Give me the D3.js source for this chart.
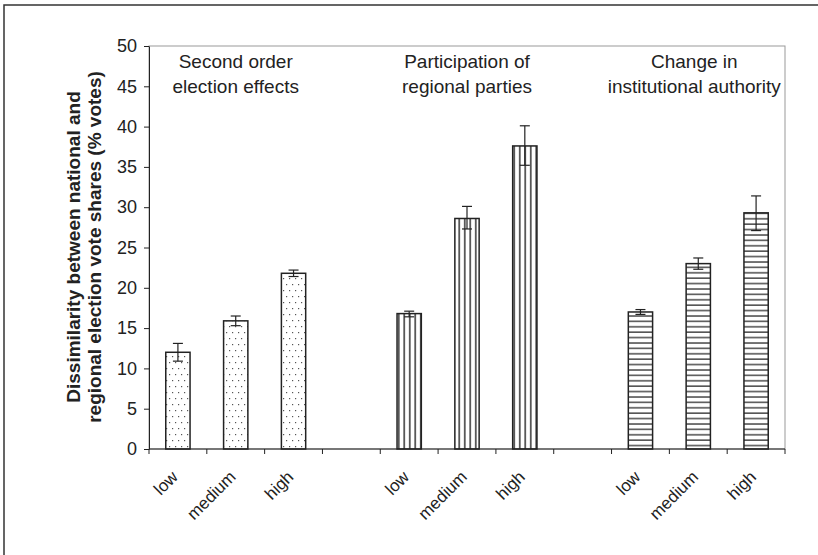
<!DOCTYPE html>
<html>
<head>
<meta charset="utf-8">
<script src="https://cdn.jsdelivr.net/npm/d3@7"></script>
<style>
  body { margin: 0; background: #fff; }
  text { font-family: "Liberation Sans", Arial, sans-serif; fill: #222; }
</style>
</head>
<body>
<div id="content"></div>
<script>
// data
var levels = ["low", "medium", "high"];
var groupLines = [["Second order", "election effects"], ["Participation of", "regional parties"], ["Change in", "institutional authority"]];
var soe = [12.0, 15.9, 21.8];
var prp = [16.8, 28.6, 37.6];
var cia = [17.0, 23.0, 29.3];
var soeErr = [[10.9, 13.1], [15.3, 16.5], [21.4, 22.2]];
var prpErr = [[16.4, 17.1], [27.3, 30.1], [35.2, 40.1]];
var ciaErr = [[16.7, 17.3], [22.3, 23.7], [27.1, 31.4]];
var yTicks = [0, 5, 10, 15, 20, 25, 30, 35, 40, 45, 50];

var W = 818, H = 555;
var pLeft = 149, pRight = 785, pTop = 46, pBottom = 449;

var values = [soe, prp, cia];
var errs = [soeErr, prpErr, ciaErr];
var patterns = ["dots", "vlines", "hlines"];

// 11 slots: 3 bars, gap, 3 bars, gap, 3 bars
var slots = [];
values.forEach(function(vals, g) {
    vals.forEach(function(v, i) {
        slots.push({key: g + "-" + i, label: levels[i], value: v, err: errs[g][i], pat: patterns[g]});
    });
    if (g < 2) slots.push({key: "gap" + g, label: "", value: null});
});

var svg = d3.select("#content").append("svg")
    .attr("width", W).attr("height", H);

var defs = svg.append("defs");
var pd = defs.append("pattern").attr("id", "dots").attr("patternUnits", "userSpaceOnUse")
    .attr("width", 6).attr("height", 12);
pd.append("rect").attr("x", 1).attr("y", 2).attr("width", 1.2).attr("height", 1.2).attr("fill", "#555");
pd.append("rect").attr("x", 4).attr("y", 8).attr("width", 1.2).attr("height", 1.2).attr("fill", "#555");

var pv = defs.append("pattern").attr("id", "vlines").attr("patternUnits", "userSpaceOnUse")
    .attr("width", 5.5).attr("height", 10);
pv.append("rect").attr("x", 2).attr("y", 0).attr("width", 1.5).attr("height", 10).attr("fill", "#333");

var ph = defs.append("pattern").attr("id", "hlines").attr("patternUnits", "userSpaceOnUse")
    .attr("width", 10).attr("height", 5.4);
ph.append("rect").attr("x", 0).attr("y", 2).attr("width", 10).attr("height", 1.6).attr("fill", "#555");

// outer frame
svg.append("rect").attr("x", 4).attr("y", 5).attr("width", 900).attr("height", 700)
    .attr("fill", "none").attr("stroke", "#333").attr("stroke-width", 1.5);

var x = d3.scaleBand().domain(slots.map(d => d.key)).range([pLeft, pRight]).paddingInner(0).paddingOuter(0);
var y = d3.scaleLinear().domain([0, 50]).range([pBottom, pTop]);
var bw = x.bandwidth() * 0.42;

// plot area border
svg.append("rect").attr("x", pLeft).attr("y", pTop).attr("width", pRight - pLeft).attr("height", pBottom - pTop)
    .attr("fill", "none").attr("stroke", "#999").attr("stroke-width", 1);

// bars
var bars = slots.filter(d => d.value !== null);
svg.selectAll(".bar").data(bars).enter().append("rect")
    .attr("x", d => x(d.key) + (x.bandwidth() - bw) / 2)
    .attr("y", d => y(d.value))
    .attr("width", bw)
    .attr("height", d => y(0) - y(d.value))
    .attr("fill", d => "url(#" + d.pat + ")")
    .attr("stroke", "#222").attr("stroke-width", 1.5);

// error bars
var eg = svg.selectAll(".err").data(bars).enter().append("g")
    .attr("stroke", "#222").attr("stroke-width", 1.2);
eg.append("line")
    .attr("x1", d => x(d.key) + x.bandwidth() / 2).attr("x2", d => x(d.key) + x.bandwidth() / 2)
    .attr("y1", d => y(d.err[0])).attr("y2", d => y(d.err[1]));
eg.append("line")
    .attr("x1", d => x(d.key) + x.bandwidth() / 2 - 5).attr("x2", d => x(d.key) + x.bandwidth() / 2 + 5)
    .attr("y1", d => y(d.err[0])).attr("y2", d => y(d.err[0]));
eg.append("line")
    .attr("x1", d => x(d.key) + x.bandwidth() / 2 - 5).attr("x2", d => x(d.key) + x.bandwidth() / 2 + 5)
    .attr("y1", d => y(d.err[1])).attr("y2", d => y(d.err[1]));

// y axis
var yAxis = svg.append("g").attr("transform", "translate(" + pLeft + ",0)")
    .call(d3.axisLeft(y).tickValues(yTicks).tickSize(5).tickPadding(7).tickSizeOuter(0));
yAxis.select(".domain").attr("stroke", "#222");
yAxis.selectAll(".tick line").attr("stroke", "#222");
yAxis.selectAll(".tick text").style("font-size", "18px").attr("fill", "#222")
    .style("font-family", "'Liberation Sans', Arial, sans-serif");

// x axis: ticks at slot boundaries
var bounds = slots.map(d => x(d.key)).concat([pRight]);
var xg = svg.append("g");
xg.append("line").attr("x1", pLeft).attr("x2", pRight).attr("y1", pBottom).attr("y2", pBottom)
    .attr("stroke", "#222").attr("stroke-width", 1);
xg.selectAll(".xt").data(bounds).enter().append("line")
    .attr("x1", d => d).attr("x2", d => d).attr("y1", pBottom).attr("y2", pBottom + 5)
    .attr("stroke", "#222");

// x labels rotated
svg.selectAll(".xl").data(bars).enter().append("text")
    .attr("transform", d => "translate(" + (x(d.key) + x.bandwidth() / 2 + 1) + "," + (pBottom + 29) + ") rotate(-45)")
    .attr("text-anchor", "end")
    .style("font-size", "17px")
    .text(d => d.label);

// group titles
var groupCenters = [0, 4, 8].map(i => (x(slots[i].key) + x(slots[i + 2].key) + x.bandwidth()) / 2);
groupCenters[2] -= 4;
groupLines.forEach(function(lines, g) {
    var t = svg.append("text").attr("text-anchor", "middle").style("font-size", "19px");
    lines.forEach(function(s, k) {
        t.append("tspan").attr("x", groupCenters[g]).attr("y", 68 + k * 25).text(s);
    });
});

// y title
var yt = svg.append("text").attr("transform", "translate(0,247) rotate(-90)")
    .attr("text-anchor", "middle").style("font-size", "19px").style("font-weight", "bold");
yt.append("tspan").attr("x", 0).attr("y", 80).text("Dissimilarity between national and");
yt.append("tspan").attr("x", 0).attr("y", 101).text("regional election vote shares (% votes)");
</script>
</body>
</html>
